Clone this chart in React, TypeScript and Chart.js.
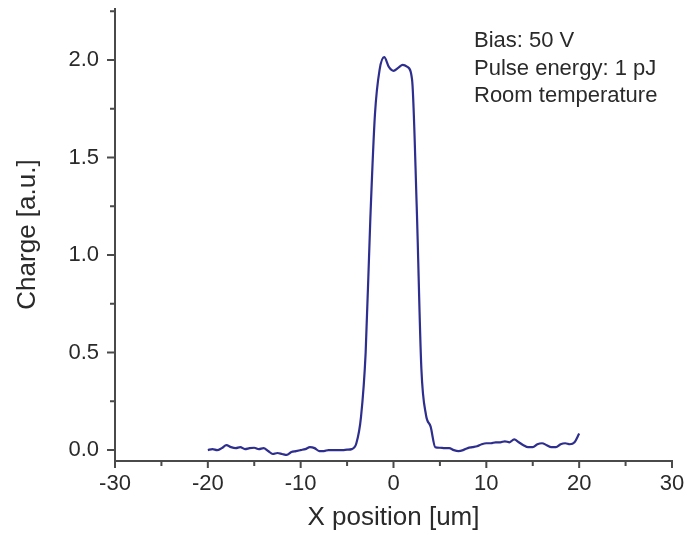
import React, { useEffect, useRef } from "react";
import { Chart, registerables } from "chart.js";

Chart.register(...registerables);

// X position [um]
const positions = [
  -20, -19.5, -19, -18.5, -18, -17.5, -17, -16.5, -16, -15.5,
  -15, -14.5, -14, -13.5, -13, -12.5, -12, -11.5, -11, -10.5,
  -10, -9.5, -9, -8.5, -8, -7.5, -7, -6.5, -6, -5.5,
  -5, -4.5, -4, -3.5, -3, -2.5, -2, -1.5, -1, -0.5,
  0, 0.5, 1, 1.5, 2, 2.5, 3, 3.5, 4, 4.5,
  5, 5.5, 6, 6.5, 7, 7.5, 8, 8.5, 9, 9.5,
  10, 10.5, 11, 11.5, 12, 12.5, 13, 13.5, 14, 14.5,
  15, 15.5, 16, 16.5, 17, 17.5, 18, 18.5, 19, 19.5,
  20,
];

// Charge [a.u.]
const charge = [
  0.0, 0.005, 0.0, 0.01, 0.025, 0.015, 0.01, 0.015, 0.005, 0.01,
  0.012, 0.005, 0.01, -0.005, -0.02, -0.015, -0.02, -0.025, -0.01, -0.005,
  0.0, 0.005, 0.015, 0.01, -0.005, -0.005, 0.0, 0.0, 0.0, 0.0,
  0.002, 0.005, 0.035, 0.17, 0.5, 1.18, 1.72, 1.95, 2.015, 1.965,
  1.945, 1.96, 1.975, 1.965, 1.9, 1.25, 0.42, 0.18, 0.12, 0.015,
  0.012, 0.01, 0.01, 0.0, -0.005, 0.0, 0.01, 0.015, 0.02, 0.03,
  0.035, 0.035, 0.04, 0.04, 0.045, 0.04, 0.055, 0.04, 0.025, 0.015,
  0.015, 0.03, 0.035, 0.025, 0.015, 0.015, 0.03, 0.035, 0.03, 0.04,
  0.085,
];

const xMajorTicks = [-30, -20, -10, 0, 10, 20, 30];
const xMinorTicks = [-25, -15, -5, 5, 15, 25];
const yMajorTicks = [0, 0.5, 1.0, 1.5, 2.0];
const yMinorTicks = [0.25, 0.75, 1.25, 1.75, 2.25];

const xTitle = "X position [um]";
const yTitle = "Charge [a.u.]";
const annotationLines = ["Bias: 50 V", "Pulse energy: 1 pJ", "Room temperature"];

const FONT = '"Liberation Sans", Arial, sans-serif';
const TEXT = "#2a2a2a";
const AXIS = "#4a4a4a";
const LINE = "#2e2e8e";

const axesPlugin = {
  id: "axesPlugin",
  afterDraw(chart: any) {
    const { ctx, chartArea, scales } = chart;
    const xs = scales.x;
    const ys = scales.y;
    ctx.save();
    ctx.strokeStyle = AXIS;
    ctx.lineWidth = 2;
    ctx.lineCap = "butt";
    // axis lines
    ctx.beginPath();
    ctx.moveTo(chartArea.left, chartArea.top);
    ctx.lineTo(chartArea.left, chartArea.bottom + 1);
    ctx.moveTo(chartArea.left - 1, chartArea.bottom);
    ctx.lineTo(chartArea.right + 1, chartArea.bottom);
    ctx.stroke();
    // y ticks (outward, left)
    ctx.beginPath();
    yMajorTicks.forEach((v) => {
      const y = ys.getPixelForValue(v);
      ctx.moveTo(chartArea.left - 8, y);
      ctx.lineTo(chartArea.left, y);
    });
    yMinorTicks.forEach((v) => {
      const y = ys.getPixelForValue(v);
      ctx.moveTo(chartArea.left - 5, y);
      ctx.lineTo(chartArea.left, y);
    });
    // x ticks (outward, down)
    xMajorTicks.forEach((v) => {
      const x = xs.getPixelForValue(v);
      ctx.moveTo(x, chartArea.bottom);
      ctx.lineTo(x, chartArea.bottom + 7);
    });
    xMinorTicks.forEach((v) => {
      const x = xs.getPixelForValue(v);
      ctx.moveTo(x, chartArea.bottom);
      ctx.lineTo(x, chartArea.bottom + 5);
    });
    ctx.stroke();

    // annotation text
    ctx.fillStyle = TEXT;
    ctx.font = `22px ${FONT}`;
    ctx.textAlign = "left";
    ctx.textBaseline = "alphabetic";
    const ax = 474;
    annotationLines.forEach((t, i) => {
      ctx.fillText(t, ax, 47 + i * 27.5);
    });
    ctx.restore();
  },
};

export default function App() {
  const canvasRef = useRef<HTMLCanvasElement | null>(null);

  useEffect(() => {
    document.body.style.margin = "0";
    const canvas = canvasRef.current;
    if (!canvas) return;
    const chart = new Chart(canvas, {
      type: "line",
      data: {
        datasets: [
          {
            data: positions.map((x, i) => ({ x, y: charge[i] })),
            borderColor: LINE,
            borderWidth: 2.2,
            pointRadius: 0,
            cubicInterpolationMode: "monotone",
            fill: false,
          },
        ],
      },
      options: {
        animation: false,
        responsive: false,
        devicePixelRatio: 1,
        layout: { padding: { left: 0, right: 18, top: 8, bottom: 0 } },
        plugins: {
          legend: { display: false },
          tooltip: { enabled: false },
        },
        scales: {
          x: {
            type: "linear",
            position: "bottom",
            min: -30,
            max: 30,
            afterFit: (s: any) => {
              s.height = 76;
              s.paddingLeft = 0;
              s.paddingRight = 0;
            },
            grid: { display: false, drawTicks: false },
            border: { display: false },
            ticks: {
              stepSize: 10,
              includeBounds: false,
              autoSkip: false,
              maxRotation: 0,
              padding: 10,
              color: TEXT,
              font: { family: FONT, size: 22 },
            },
            title: {
              display: true,
              text: xTitle,
              color: TEXT,
              font: { family: FONT, size: 26 },
              padding: { top: 0, bottom: 4 },
            },
          },
          y: {
            type: "linear",
            min: -0.056,
            max: 2.267,
            afterFit: (s: any) => {
              s.width = 115;
              s.paddingTop = 0;
              s.paddingBottom = 0;
            },
            grid: { display: false, drawTicks: false },
            border: { display: false },
            ticks: {
              stepSize: 0.5,
              includeBounds: false,
              padding: 16,
              color: TEXT,
              font: { family: FONT, size: 22 },
              callback: (v: any) => Number(v).toFixed(1),
            },
            title: {
              display: true,
              text: yTitle,
              color: TEXT,
              font: { family: FONT, size: 26 },
              padding: { top: 12, bottom: 0 },
            },
          },
        },
      },
      plugins: [axesPlugin],
    });
    return () => chart.destroy();
  }, []);

  return (
    <div style={{ position: "fixed", left: 0, top: 0, width: 690, height: 537, background: "#fff" }}>
      <canvas ref={canvasRef} width={690} height={537} style={{ width: 690, height: 537 }} />
    </div>
  );
}
